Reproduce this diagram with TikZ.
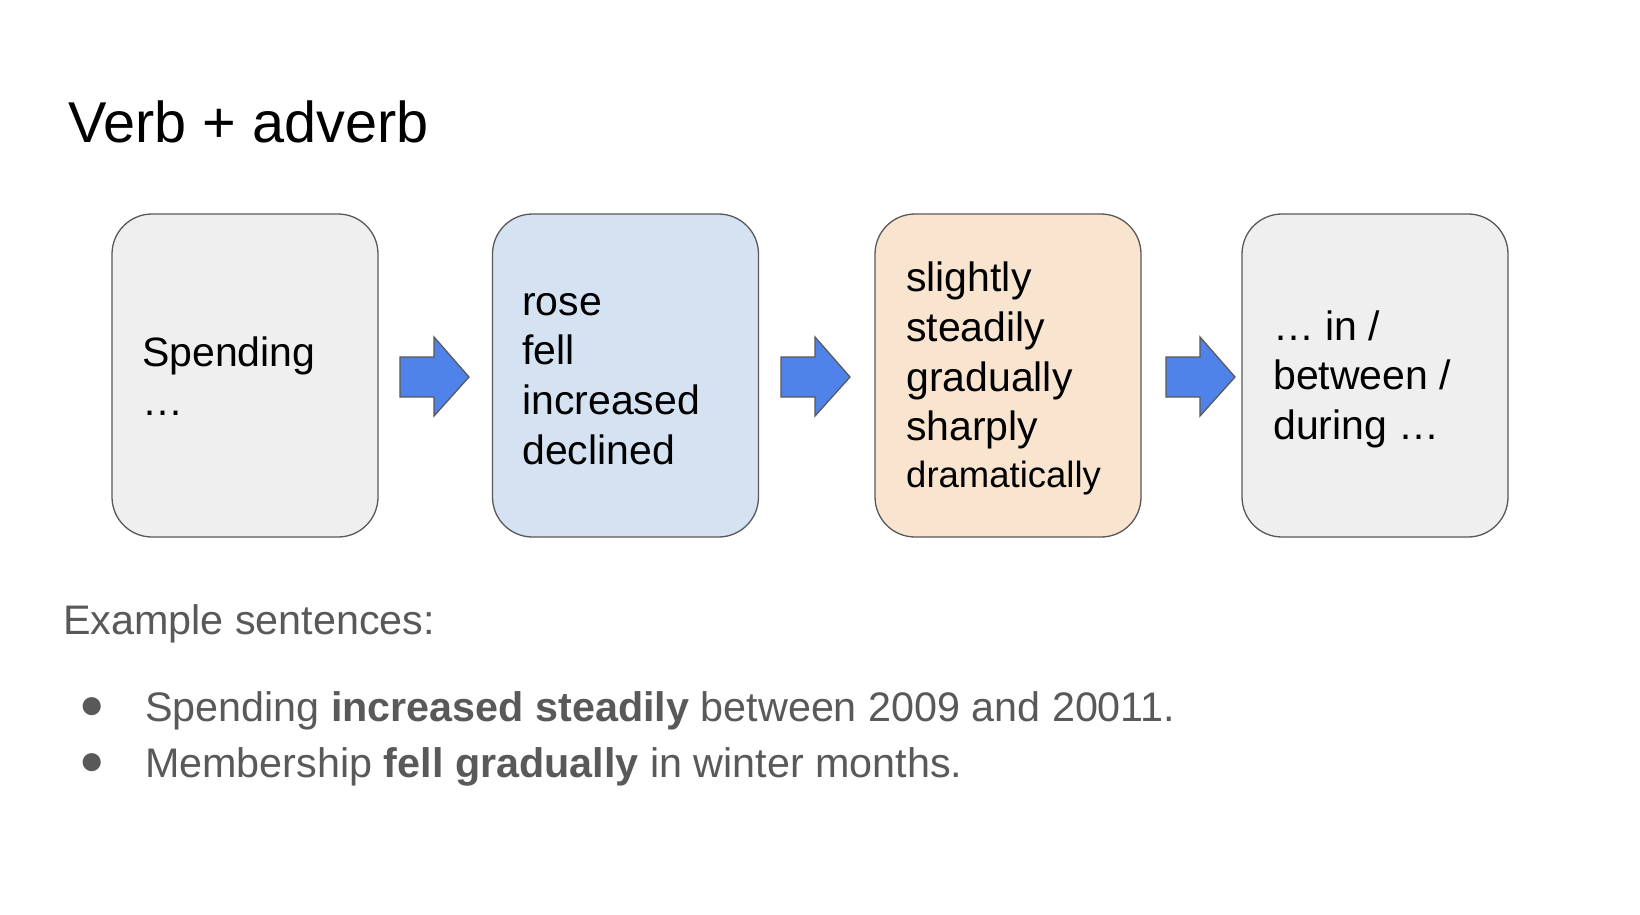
\documentclass[tikz,border=0pt]{standalone}
\usepackage{fontspec}
\setmainfont{Liberation Sans}
\definecolor{boxgray}{HTML}{EFEFEF}
\definecolor{boxblue}{HTML}{D5E2F1}
\definecolor{boxorange}{HTML}{F9E5CF}
\definecolor{edgegray}{HTML}{595959}
\definecolor{arrowblue}{HTML}{5083EA}
\definecolor{textgray}{HTML}{595959}
\tikzset{
  card/.style={draw=edgegray, line width=1.3pt, rounded corners=40pt, minimum width=266pt, minimum height=323pt, inner sep=0pt},
  boxtext/.style={anchor=base west, inner sep=0pt, font=\fontsize{41}{49}\selectfont},
  smalltext/.style={anchor=base west, inner sep=0pt, font=\fontsize{36.5}{44}\selectfont},
  bodytext/.style={anchor=base west, inner sep=0pt, text=textgray, font=\fontsize{41.3}{49}\selectfont},
  bulletmark/.style={anchor=center, inner sep=0pt, text=textgray, font=\fontsize{42}{48}\selectfont},
  blockarrow/.style={draw=edgegray, line width=1.3pt, fill=arrowblue, line join=miter}
}
\begin{document}
\begin{tikzpicture}[x=1pt,y=-1pt]
\useasboundingbox[fill=white] (0,0) rectangle (1640,914);
% title
\node[anchor=base west, inner sep=0pt, font=\fontsize{57.6}{68}\selectfont] (title) at (68,142) {Verb + adverb};
% boxes
\node[card, fill=boxgray]   (b1) at (245,375.5) {};
\node[card, fill=boxblue]   (b2) at (625.5,375.5) {};
\node[card, fill=boxorange] (b3) at (1008,375.5) {};
\node[card, fill=boxgray]   (b4) at (1375,375.5) {};
% box 1 text
\node[boxtext] (t11) at (142,366) {Spending};
\node[boxtext] (t12) at (142,415) {…};
% box 2 text
\node[boxtext] (t21) at (522,315) {rose};
\node[boxtext] (t22) at (522,364) {fell};
\node[boxtext] (t23) at (522,414) {increased};
\node[boxtext] (t24) at (522,464) {declined};
% box 3 text
\node[boxtext] (t31) at (906,291) {slightly};
\node[boxtext] (t32) at (906,341) {steadily};
\node[boxtext] (t33) at (906,391) {gradually};
\node[boxtext] (t34) at (906,440) {sharply};
\node[smalltext] (t35) at (906,487) {dramatically};
% box 4 text
\node[boxtext] (t41) at (1273,340) {… in /};
\node[boxtext] (t42) at (1273,389) {between /};
\node[boxtext] (t43) at (1273,439) {during …};
% block arrows
\foreach \x in {400,781,1166}{
  \draw[blockarrow, shift={(\x,357)}] (0,0) -- (34,0) -- (34,-20) -- (69,20) -- (34,59) -- (34,40) -- (0,40) -- cycle;
}
% example sentences
\node[bodytext] (ex) at (63,634) {Example sentences:};
\node[bulletmark] (bul1) at (92,708) {●};
\node[bulletmark] (bul2) at (92,764) {●};
\node[bodytext] (s1) at (145,721) {Spending \textbf{increased steadily} between 2009 and 20011.};
\node[bodytext] (s2) at (145,777) {Membership \textbf{fell gradually} in winter months.};
\end{tikzpicture}
\end{document}
